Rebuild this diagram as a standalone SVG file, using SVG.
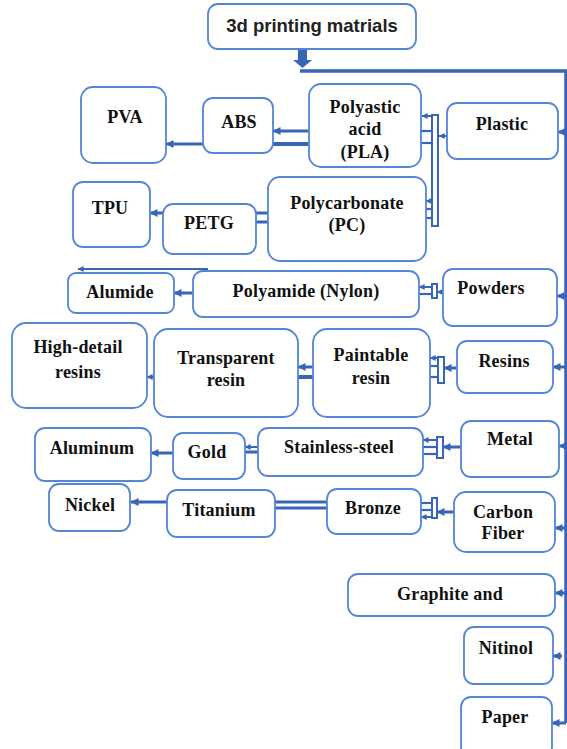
<svg xmlns="http://www.w3.org/2000/svg" width="567" height="749" viewBox="0 0 567 749">
<defs>
<marker id="ah" viewBox="0 0 8 8" refX="7.5" refY="4" markerWidth="8" markerHeight="8" markerUnits="userSpaceOnUse" orient="auto"><path d="M0,0 L8,4 L0,8 Z" fill="#3865B8"/></marker>
<marker id="ahs" viewBox="0 0 8 8" refX="7.5" refY="4" markerWidth="6" markerHeight="6" markerUnits="userSpaceOnUse" orient="auto"><path d="M0,0 L8,4 L0,8 Z" fill="#3865B8"/></marker>
</defs>
<style>
.box{fill:#fff;stroke:#5485D8;stroke-width:1.8}
.t{font-family:'Liberation Serif','DejaVu Serif',serif;font-weight:bold;font-size:18px;letter-spacing:0.2px;fill:#111;text-anchor:middle}
.title{font-family:'Liberation Sans',Arial,sans-serif;font-weight:bold;font-size:18.5px;fill:#222;text-anchor:middle}
.c{stroke:#3865B8;stroke-width:3;fill:none}
.c2{stroke:#3865B8;stroke-width:2.2;fill:none}
.a{stroke:#3865B8;stroke-width:3;fill:none;marker-end:url(#ah)}
.as{stroke:#3865B8;stroke-width:2;fill:none;marker-end:url(#ahs)}
.bar{fill:#fff;stroke:#3865B8;stroke-width:2}
</style>

<g id="connectors">
  <rect x="298" y="49" width="9" height="12" fill="#3865B8"/>
  <polygon points="293,60 312,60 302.5,68" fill="#3865B8"/>
  <path class="c" d="M300,71 H566 V723" style="stroke-width:3.5"/>
  <line class="a" x1="566" y1="132" x2="558" y2="132"/>
  <line class="a" x1="566" y1="296" x2="557" y2="296"/>
  <line class="a" x1="566" y1="367" x2="553" y2="367"/>
  <line class="a" x1="566" y1="446" x2="559" y2="446"/>
  <line class="a" x1="566" y1="528" x2="555" y2="528"/>
  <line class="a" x1="566" y1="593" x2="555" y2="593"/>
  <line class="a" x1="562" y1="656" x2="553" y2="656"/>
  <line class="a" x1="566" y1="723" x2="552" y2="723"/>

  <line class="as" x1="447" y1="136" x2="439" y2="136"/>
  <rect class="bar" x="432" y="115" width="6" height="111"/>
  <line class="as" x1="433" y1="116" x2="422" y2="116"/>
  <line class="c2" x1="421" y1="131" x2="432" y2="131"/>
  <line class="c2" x1="421" y1="143" x2="432" y2="143"/>
  <line class="as" x1="433" y1="201" x2="426" y2="201"/>
  <line class="c2" x1="425" y1="209" x2="432" y2="209"/>
  <line class="c2" x1="425" y1="218" x2="432" y2="218"/>

  <line class="a" x1="309" y1="131" x2="273" y2="131"/>
  <line class="c" x1="309" y1="144" x2="273" y2="144" style="stroke-width:4"/>
  <line class="a" x1="203" y1="144" x2="166" y2="144"/>

  <line class="c" x1="256" y1="213" x2="268" y2="213"/>
  <line class="c" x1="256" y1="222" x2="268" y2="222"/>
  <line class="a" x1="163" y1="213" x2="150" y2="213"/>

  <line class="as" x1="208" y1="269" x2="78" y2="269"/>

  <line class="as" x1="443" y1="292" x2="437" y2="292"/>
  <rect class="bar" x="432" y="284" width="5" height="14"/>
  <line class="as" x1="432" y1="287" x2="419" y2="287"/>
  <line class="c2" x1="419" y1="294" x2="432" y2="294"/>
  <line class="a" x1="193" y1="293" x2="174" y2="293"/>

  <line class="a" x1="457" y1="368" x2="444" y2="368"/>
  <rect class="bar" x="438" y="357" width="6" height="26"/>
  <line class="as" x1="438" y1="358" x2="430" y2="358"/>
  <line class="c2" x1="430" y1="366" x2="438" y2="366"/>
  <line class="c2" x1="430" y1="377" x2="438" y2="377"/>
  <line class="a" x1="313" y1="367" x2="298" y2="367"/>
  <line class="c" x1="313" y1="377" x2="298" y2="377" style="stroke-width:4"/>
  <line class="as" x1="154" y1="377" x2="147" y2="377"/>

  <line class="a" x1="461" y1="447" x2="443" y2="447"/>
  <rect class="bar" x="437" y="437" width="6" height="21"/>
  <line class="as" x1="437" y1="440" x2="423" y2="440"/>
  <line class="c2" x1="423" y1="447" x2="437" y2="447"/>
  <line class="c2" x1="423" y1="454" x2="437" y2="454"/>
  <line class="as" x1="258" y1="447" x2="245" y2="447"/>
  <line class="c" x1="258" y1="452" x2="245" y2="452"/>
  <line class="a" x1="173" y1="453" x2="151" y2="453"/>

  <line class="a" x1="454" y1="512" x2="437" y2="512"/>
  <rect class="bar" x="432" y="498" width="5" height="20"/>
  <line class="c2" x1="421" y1="503" x2="432" y2="503"/>
  <line class="c2" x1="421" y1="510" x2="432" y2="510"/>
  <line class="as" x1="432" y1="517" x2="421" y2="517"/>
  <line class="c" x1="275" y1="502" x2="327" y2="502"/>
  <line class="c" x1="275" y1="508" x2="327" y2="508"/>
  <line class="a" x1="167" y1="502" x2="131" y2="502"/>
</g>

<g id="n-title"><rect class="box" x="208" y="4" width="208" height="45" rx="10"/><text class="title" x="312" y="32">3d printing matrials</text></g>

<g font-family="Liberation Serif, DejaVu Serif, serif">
<g id="n-plastic"><rect class="box" x="447" y="103" width="111" height="56" rx="10"/><text class="t" x="502" y="130">Plastic</text></g>
<g id="n-pla"><rect class="box" x="309" y="84" width="112" height="83" rx="12"/><text class="t" x="365" y="113">Polyastic</text><text class="t" x="365" y="135">acid</text><text class="t" x="365" y="158">(PLA)</text></g>
<g id="n-abs"><rect class="box" x="203" y="98" width="70" height="55" rx="10"/><text class="t" x="239" y="128">ABS</text></g>
<g id="n-pva"><rect class="box" x="81" y="87" width="85" height="76" rx="12"/><text class="t" x="125" y="123">PVA</text></g>
<g id="n-pc"><rect class="box" x="268" y="177" width="158" height="84" rx="12"/><text class="t" x="347" y="209">Polycarbonate</text><text class="t" x="347" y="231">(PC)</text></g>
<g id="n-petg"><rect class="box" x="163" y="204" width="93" height="50" rx="10"/><text class="t" x="209" y="229">PETG</text></g>
<g id="n-tpu"><rect class="box" x="73" y="182" width="77" height="65" rx="10"/><text class="t" x="110" y="214">TPU</text></g>

<g id="n-powders"><rect class="box" x="443" y="269" width="114" height="57" rx="10"/><text class="t" x="491" y="294">Powders</text></g>
<g id="n-polyamide"><rect class="box" x="193" y="271" width="226" height="46" rx="10"/><text class="t" x="306" y="297">Polyamide (Nylon)</text></g>
<g id="n-alumide"><rect class="box" x="68" y="273" width="106" height="40" rx="8"/><text class="t" x="120" y="298">Alumide</text></g>

<g id="n-resins"><rect class="box" x="457" y="341" width="96" height="52" rx="10"/><text class="t" x="504" y="367">Resins</text></g>
<g id="n-paintable"><rect class="box" x="313" y="329" width="117" height="88" rx="14"/><text class="t" x="371" y="361">Paintable</text><text class="t" x="371" y="384">resin</text></g>
<g id="n-transparent"><rect class="box" x="154" y="329" width="144" height="88" rx="14"/><text class="t" x="226" y="364">Transparent</text><text class="t" x="226" y="386">resin</text></g>
<g id="n-highdetail"><rect class="box" x="12" y="323" width="135" height="85" rx="14"/><text class="t" x="78" y="353">High-detail</text><text class="t" x="78" y="378">resins</text></g>

<g id="n-metal"><rect class="box" x="461" y="421" width="98" height="56" rx="10"/><text class="t" x="510" y="445">Metal</text></g>
<g id="n-stainless"><rect class="box" x="258" y="428" width="165" height="48" rx="10"/><text class="t" x="339" y="453">Stainless-steel</text></g>
<g id="n-gold"><rect class="box" x="173" y="433" width="72" height="46" rx="10"/><text class="t" x="207" y="458">Gold</text></g>
<g id="n-aluminum"><rect class="box" x="35" y="428" width="116" height="53" rx="10"/><text class="t" x="92" y="454">Aluminum</text></g>

<g id="n-carbon"><rect class="box" x="454" y="492" width="101" height="60" rx="12"/><text class="t" x="503" y="518">Carbon</text><text class="t" x="503" y="539">Fiber</text></g>
<g id="n-bronze"><rect class="box" x="327" y="489" width="94" height="45" rx="10"/><text class="t" x="373" y="514">Bronze</text></g>
<g id="n-titanium"><rect class="box" x="167" y="490" width="108" height="47" rx="10"/><text class="t" x="219" y="516">Titanium</text></g>
<g id="n-nickel"><rect class="box" x="49" y="484" width="81" height="47" rx="10"/><text class="t" x="90" y="511">Nickel</text></g>

<g id="n-graphite"><rect class="box" x="348" y="574" width="207" height="42" rx="10"/><text class="t" x="450" y="600">Graphite and</text></g>
<g id="n-nitinol"><rect class="box" x="464" y="627" width="89" height="57" rx="10"/><text class="t" x="506" y="654">Nitinol</text></g>
<g id="n-paper"><rect class="box" x="461" y="697" width="91" height="60" rx="10"/><text class="t" x="505" y="723">Paper</text></g>
</g>
</svg>
